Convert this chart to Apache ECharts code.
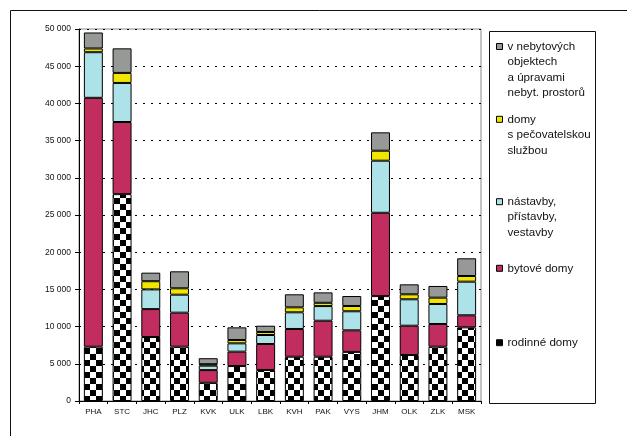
<!DOCTYPE html>
<html>
<head>
<meta charset="utf-8">
<script src="https://cdn.jsdelivr.net/npm/echarts@6/dist/echarts.min.js"></script>
<style>
  html, body { margin: 0; padding: 0; background: #fff; }
  #chart { width: 627px; height: 436px; }
</style>
</head>
<body>
<div id="chart"></div>
<script>
// Regions (kraje)
const categories = ['PHA', 'STC', 'JHC', 'PLZ', 'KVK', 'ULK', 'LBK', 'KVH', 'PAK', 'VYS', 'JHM', 'OLK', 'ZLK', 'MSK'];

// Dwellings by type of construction
const rodinneDomy   = [7300, 27800, 8600, 7300, 2450, 4700, 4170, 5950, 5950, 6600, 14100, 6180, 7300, 9900];
const bytoveDomy    = [33450, 9700, 3750, 4570, 1700, 1930, 3490, 3730, 4840, 2900, 11200, 3940, 3050, 1620];
const nastavby      = [6130, 5250, 2650, 2420, 600, 1120, 1210, 2240, 1970, 2560, 7000, 3550, 2690, 4520];
const pecovatelske  = [500, 1350, 1100, 860, 200, 450, 400, 670, 440, 710, 1340, 670, 850, 760];
const nebytove      = [2150, 3300, 1150, 2280, 800, 1700, 850, 1750, 1400, 1340, 2470, 1340, 1570, 2380];

// Value axis
const yMin = 0, yMax = 50000, yStep = 5000;

// Legend texts, one array entry per line
const legendLines = {
  'v nebytových objektech a úpravami nebyt. prostorů': ['v nebytových', 'objektech', 'a úpravami', 'nebyt. prostorů'],
  'domy s pečovatelskou službou': ['domy', 's pečovatelskou', 'službou'],
  'nástavby, přístavby, vestavby': ['nástavby,', 'přístavby,', 'vestavby'],
  'bytové domy': ['bytové domy'],
  'rodinné domy': ['rodinné domy']
};
// vertical centre of each entry's first line
const legendFirstLineY = {
  'v nebytových objektech a úpravami nebyt. prostorů': 46.5,
  'domy s pečovatelskou službou': 119.3,
  'nástavby, přístavby, vestavby': 201.7,
  'bytové domy': 268.3,
  'rodinné domy': 342.7
};

// Checkerboard fill for family houses
function checkerPattern(cell) {
  const c = document.createElement('canvas');
  c.width = cell * 2; c.height = cell * 2;
  const g = c.getContext('2d');
  g.fillStyle = '#fff'; g.fillRect(0, 0, cell * 2, cell * 2);
  g.fillStyle = '#000';
  g.fillRect(0, 0, cell, cell);
  g.fillRect(cell, cell, cell, cell);
  return { image: c, repeat: 'repeat' };
}

const FONT = '"Liberation Sans", Arial, sans-serif';
const LINE_H = 15.5;

const seriesDefs = [
  { name: 'rodinné domy', data: rodinneDomy, color: checkerPattern(6) },
  { name: 'bytové domy', data: bytoveDomy, color: '#c22d60' },
  { name: 'nástavby, přístavby, vestavby', data: nastavby, color: '#ace2e8' },
  { name: 'domy s pečovatelskou službou', data: pecovatelske, color: '#f2e600' },
  { name: 'v nebytových objektech a úpravami nebyt. prostorů', data: nebytove, color: '#979997' }
];

// One legend block per entry so each can sit at its own height.
// The text block is centred on the marker, so leading empty lines
// push the first real line level with the marker.
const legends = Object.keys(legendLines).map(name => {
  const n = legendLines[name].length;
  return {
    show: true,
    orient: 'vertical',
    left: 496,
    top: legendFirstLineY[name] - (2 * n - 1) * LINE_H / 2,
    padding: 0,
    itemWidth: 6,
    itemHeight: 6,
    icon: 'rect',
    selectedMode: false,
    data: [name],
    formatter: nm => new Array(n - 1).fill('').concat(legendLines[nm]).join('\n'),
    itemStyle: { borderColor: '#000', borderWidth: 1 },
    textStyle: {
      fontFamily: FONT,
      fontSize: 11.6,
      color: '#111',
      lineHeight: LINE_H
    }
  };
});

const chart = echarts.init(document.getElementById('chart'), null, { renderer: 'canvas' });

chart.setOption({
  backgroundColor: '#fff',
  animation: false,
  graphic: [
    {
      type: 'rect', z: -10, silent: true,
      shape: { x: 10.5, y: 10.5, width: 700, height: 500 },
      style: { fill: '#fff', stroke: '#111', lineWidth: 1 }
    },
    {
      type: 'rect', z: 0, silent: true,
      shape: { x: 489.5, y: 31.5, width: 106, height: 372 },
      style: { fill: '#fff', stroke: '#111', lineWidth: 1 }
    }
  ],
  legend: legends,
  grid: {
    left: 79, right: 146, top: 29, bottom: 35,
    show: true, borderColor: '#8a8a8a', borderWidth: 1,
    containLabel: false
  },
  xAxis: {
    type: 'category',
    data: categories,
    axisLine: { lineStyle: { color: '#000', width: 1 } },
    axisTick: { show: true, alignWithLabel: false, length: 3, lineStyle: { color: '#000' } },
    axisLabel: { fontFamily: FONT, fontSize: 8, color: '#111', margin: 7, interval: 0 },
    splitLine: { show: false }
  },
  yAxis: {
    type: 'value',
    min: yMin, max: yMax, interval: yStep,
    axisLine: { show: true, lineStyle: { color: '#000', width: 1 } },
    axisTick: { show: true, length: 4, lineStyle: { color: '#000' } },
    axisLabel: {
      fontFamily: FONT, fontSize: 8.5, color: '#111', margin: 8,
      formatter: v => v === 0 ? '0' : (v / 1000) + ' 000'
    },
    splitLine: { show: true, lineStyle: { color: '#000', width: 1, type: [2, 6] } }
  },
  series: seriesDefs.map(s => ({
    name: s.name,
    type: 'bar',
    stack: 'total',
    data: s.data,
    barWidth: '66%',
    itemStyle: { color: s.color, borderColor: '#000', borderWidth: 1 },
    emphasis: { disabled: true }
  }))
});
</script>
</body>
</html>
